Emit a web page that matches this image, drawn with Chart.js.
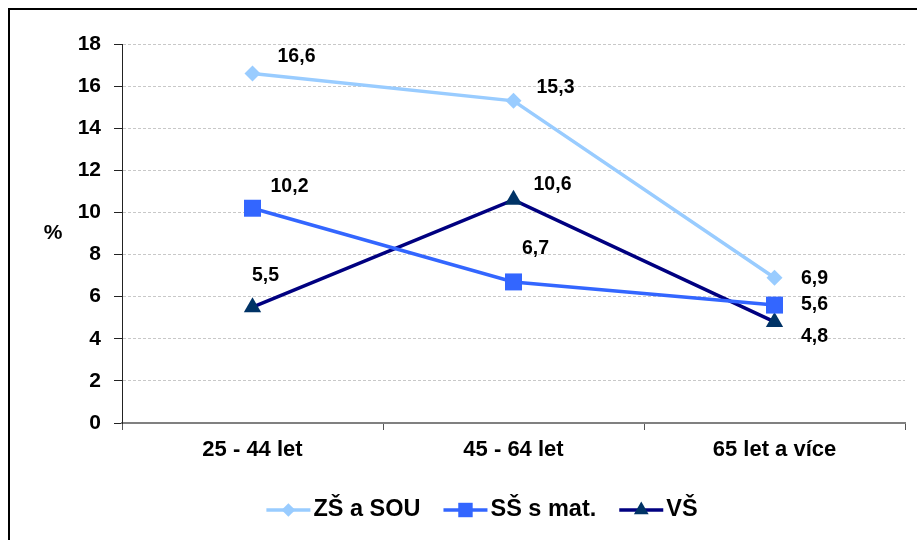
<!DOCTYPE html>
<html>
<head>
<meta charset="utf-8">
<script src="https://cdn.jsdelivr.net/npm/chart.js@4/dist/chart.umd.min.js"></script>
<style>
  html, body { margin: 0; padding: 0; background: #fff; overflow: hidden; }
  #wrap { position: relative; width: 917px; height: 540px; }
  #frame {
    position: absolute; left: 8px; top: 8px; width: 1000px; height: 1000px;
    border-left: 2px solid #000; border-top: 2px solid #000; pointer-events: none;
  }
</style>
</head>
<body>
<div id="wrap">
  <canvas id="chart"></canvas>
  <div id="frame"></div>
</div>
<script>
// === DATA ===
const categories = ["25 - 44 let", "45 - 64 let", "65 let a více"];
const seriesNames = ["ZŠ a SOU", "SŠ s mat.", "VŠ"];
const zsSou = [16.6, 15.3, 6.9];
const ssMat = [10.2, 6.7, 5.6];
const vs = [5.5, 10.6, 4.8];
const yTicks = [0, 2, 4, 6, 8, 10, 12, 14, 16, 18];

const FONT = "'Liberation Sans', Arial, sans-serif";

// label offsets from each point (px), per series
const labelOffsets = [
  [[44, -17], [42, -13], [40, 1]],
  [[37, -22], [22, -33], [40, 0]],
  [[13, -32], [39, -15], [40, 15]]
];

const fmt = v => v.toFixed(1).replace(".", ",");

// value labels next to points
const valueLabels = {
  id: "valueLabels",
  afterDatasetsDraw(chart) {
    const ctx = chart.ctx;
    ctx.save();
    ctx.font = "bold 19.5px " + FONT;
    ctx.fillStyle = "#000";
    ctx.textAlign = "center";
    ctx.textBaseline = "middle";
    chart.data.datasets.forEach((ds, i) => {
      chart.getDatasetMeta(i).data.forEach((pt, j) => {
        const off = labelOffsets[i][j];
        ctx.fillText(fmt(ds.data[j]), pt.x + off[0], pt.y + off[1]);
      });
    });
    ctx.restore();
  }
};

// horizontal "%" axis title
const yTitle = {
  id: "yTitle",
  afterDraw(chart) {
    const ctx = chart.ctx;
    const area = chart.chartArea;
    ctx.save();
    ctx.font = "bold 21px " + FONT;
    ctx.fillStyle = "#000";
    ctx.textAlign = "center";
    ctx.textBaseline = "middle";
    ctx.fillText("%", 53, (area.top + area.bottom) / 2);
    ctx.restore();
  }
};

// legend with line + marker samples
const lineLegend = {
  id: "lineLegend",
  afterDraw(chart) {
    const ctx = chart.ctx;
    const sample = 44, gapText = 3, gapItem = 23, y = 510, centerX = 482;
    ctx.save();
    ctx.font = "bold 23.5px " + FONT;
    const items = chart.data.datasets.map(ds => ({ ds, w: ctx.measureText(ds.label).width }));
    const total = items.reduce((s, it) => s + sample + gapText + it.w, 0) + gapItem * (items.length - 1);
    let x = centerX - total / 2;
    items.forEach(({ ds, w }) => {
      ctx.strokeStyle = ds.borderColor;
      ctx.lineWidth = ds.borderWidth;
      ctx.beginPath();
      ctx.moveTo(x, y);
      ctx.lineTo(x + sample, y);
      ctx.stroke();
      ctx.fillStyle = ds.pointBackgroundColor;
      ctx.strokeStyle = ds.pointBackgroundColor;
      Chart.helpers.drawPoint(ctx, {
        pointStyle: ds.pointStyle, radius: ds.pointRadius * 0.85, rotation: 0, borderWidth: 0
      }, x + sample / 2, y);
      ctx.fillStyle = "#000";
      ctx.textAlign = "left";
      ctx.textBaseline = "middle";
      ctx.fillText(ds.label, x + sample + gapText, y);
      x += sample + gapText + w + gapItem;
    });
    ctx.restore();
  }
};

function series(label, data, color, pointColor, style, radius) {
  return {
    label, data,
    borderColor: color,
    backgroundColor: pointColor,
    borderWidth: 3.5,
    pointStyle: style,
    pointRadius: radius,
    pointBackgroundColor: pointColor,
    pointBorderColor: pointColor,
    pointBorderWidth: 0,
    tension: 0,
    fill: false
  };
}

new Chart(document.getElementById("chart"), {
  type: "line",
  data: {
    labels: categories,
    datasets: [
      series(seriesNames[0], zsSou, "#99ccff", "#99ccff", "rectRot", 8),
      series(seriesNames[1], ssMat, "#3366ff", "#3366ff", "rect", 12),
      series(seriesNames[2], vs, "#000080", "#003366", "triangle", 10)
    ]
  },
  options: {
    responsive: true,
    maintainAspectRatio: false,
    animation: false,
    layout: { padding: { left: 0, right: 12, top: 44, bottom: 0 } },
    plugins: { legend: { display: false }, tooltip: { enabled: false } },
    scales: {
      x: {
        offset: true,
        grid: { offset: true, drawOnChartArea: false, drawTicks: true, tickLength: 7, tickColor: "#555" },
        border: { color: "#808080", width: 2 },
        ticks: { color: "#000", padding: 7, font: { family: FONT, size: 22, weight: "bold" } },
        afterFit(scale) { scale.height = 117; }
      },
      y: {
        min: 0, max: 18,
        afterBuildTicks(scale) { scale.ticks = yTicks.map(v => ({ value: v })); },
        grid: { color: "#c8c8c8", lineWidth: 1, tickLength: 8, tickColor: "#222" },
        border: { color: "#222", width: 1, dash: [3, 2] },
        ticks: { color: "#000", padding: 13, font: { family: FONT, size: 21, weight: "bold" } },
        afterFit(scale) { scale.width = 122; }
      }
    }
  },
  plugins: [valueLabels, yTitle, lineLegend]
});
</script>
</body>
</html>
